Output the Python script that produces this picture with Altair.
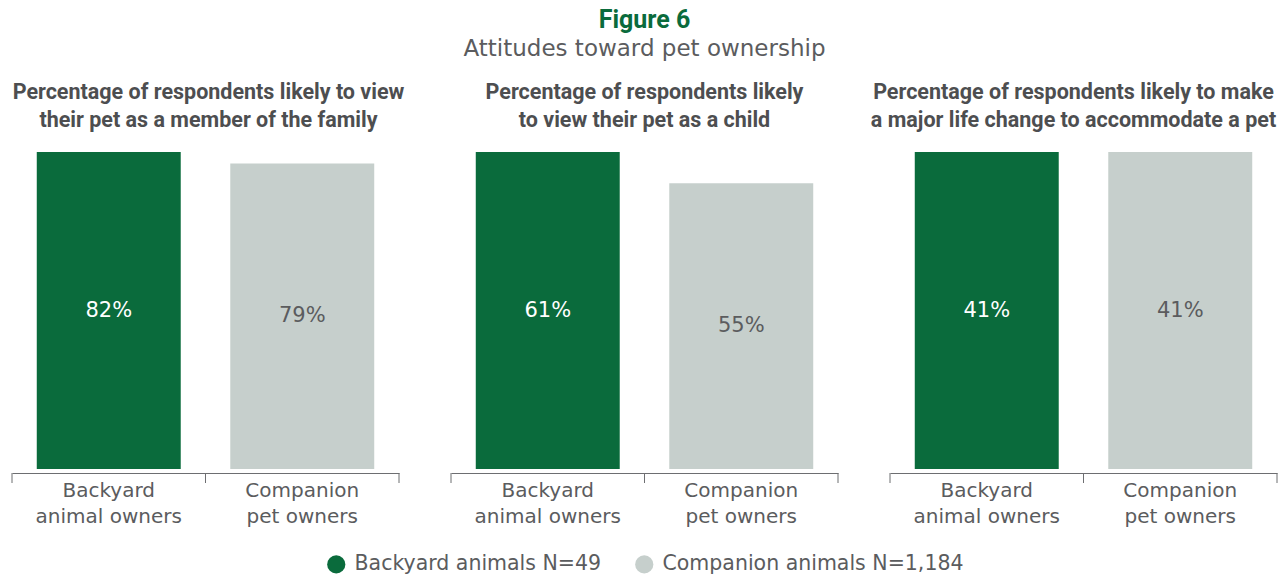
import altair as alt
import pandas as pd

panel_titles = [
    ["Percentage of respondents likely to view", "their pet as a member of the family"],
    ["Percentage of respondents likely", "to view their pet as a child"],
    ["Percentage of respondents likely to make", "a major life change to accommodate a pet"],
]
groups = ["Backyard animal owners", "Companion pet owners"]
group_lines = {"Backyard animal owners": ["Backyard", "animal owners"],
               "Companion pet owners": ["Companion", "pet owners"]}
series = ["Backyard animals N=49", "Companion animals N=1,184"]
backyard = [82, 61, 41]
companion = [79, 55, 41]
colors = ["#0a6b3c", "#c6cfcc"]

FONT = "DejaVu Sans"
BOLD = "Roboto"
GRAY = "#5b5c5e"
AXC = "#6d6e71"
W, H = 387, 317
title_dx = [3, 0, -10]

label_expr = (f"datum.value == '{groups[0]}' ? {group_lines[groups[0]]} : "
              f"{group_lines[groups[1]]}")


def panel(i):
    df = pd.DataFrame({
        "group": groups,
        "series": series,
        "value": [backyard[i], companion[i]],
    })
    df["label"] = df["value"].astype(str) + "%"
    xscale = alt.Scale(domain=groups, paddingInner=0, paddingOuter=0)
    bars = alt.Chart(df).mark_bar(width=alt.RelativeBandSize(0.744)).encode(
        x=alt.X("group:N", scale=xscale,
                axis=alt.Axis(title=None, labelAngle=0, labelExpr=label_expr,
                              ticks=False, domainColor=AXC, domainWidth=1,
                              offset=4, labelPadding=7,
                              labelFontSize=20, labelColor=GRAY, labelFont=FONT,
                              labelLineHeight=26, labelBaseline="top")),
        y=alt.Y("value:Q", scale=alt.Scale(zero=True, nice=False), axis=None),
        color=alt.Color("series:N", sort=series,
                        scale=alt.Scale(domain=series, range=colors),
                        legend=alt.Legend(title=None, orient="none",
                                          legendX=314, legendY=402,
                                          direction="horizontal",
                                          symbolType="circle", symbolSize=330,
                                          symbolStrokeWidth=0, labelOffset=8,
                                          labelFontSize=20.5, labelFont=FONT,
                                          labelColor=GRAY, columnPadding=32,
                                          labelLimit=0)),
    )
    text = alt.Chart(df).transform_calculate(mid="datum.value / 2").mark_text(
        fontSize=21, font=FONT, baseline="middle"
    ).encode(
        x=alt.X("group:N", scale=xscale),
        y=alt.Y("mid:Q", axis=None),
        text="label:N",
        color=alt.condition(f"datum.series == '{series[0]}'",
                            alt.value("white"), alt.value(GRAY)),
    )
    tick_start = alt.Chart(df).mark_rule(color=AXC, strokeWidth=1).encode(
        x=alt.X("group:N", scale=xscale, bandPosition=0),
        y=alt.value(H + 4), y2=alt.value(H + 14),
    )
    tick_end = alt.Chart(df).transform_filter(
        alt.datum.group == groups[-1]
    ).mark_rule(color=AXC, strokeWidth=1).encode(
        x=alt.X("group:N", scale=xscale, bandPosition=1),
        y=alt.value(H + 4), y2=alt.value(H + 14),
    )
    return alt.layer(bars, text, tick_start, tick_end).properties(
        width=W, height=H,
        title=alt.TitleParams(panel_titles[i], fontSize=21.5, fontWeight="bold",
                              font=BOLD, color="#4d4e50", lineHeight=28,
                              anchor="middle", offset=21, dx=title_dx[i]),
    )


chart = alt.hconcat(panel(0), panel(1), panel(2), spacing=52,
                    bounds="flush").resolve_scale(
    y="independent"
).properties(
    title=alt.TitleParams("Figure 6", subtitle="Attitudes toward pet ownership",
                          anchor="middle", fontSize=25, fontWeight="bold",
                          font=BOLD, color="#0a6b3c", subtitleFontSize=23,
                          subtitleFont=FONT, subtitleColor=GRAY,
                          subtitlePadding=5, offset=21),
    padding={"left": 11, "top": 7, "right": 0, "bottom": 0},
).configure_view(stroke=None)

chart.save("out.html", embed_options={"renderer": "svg", "actions": False})
